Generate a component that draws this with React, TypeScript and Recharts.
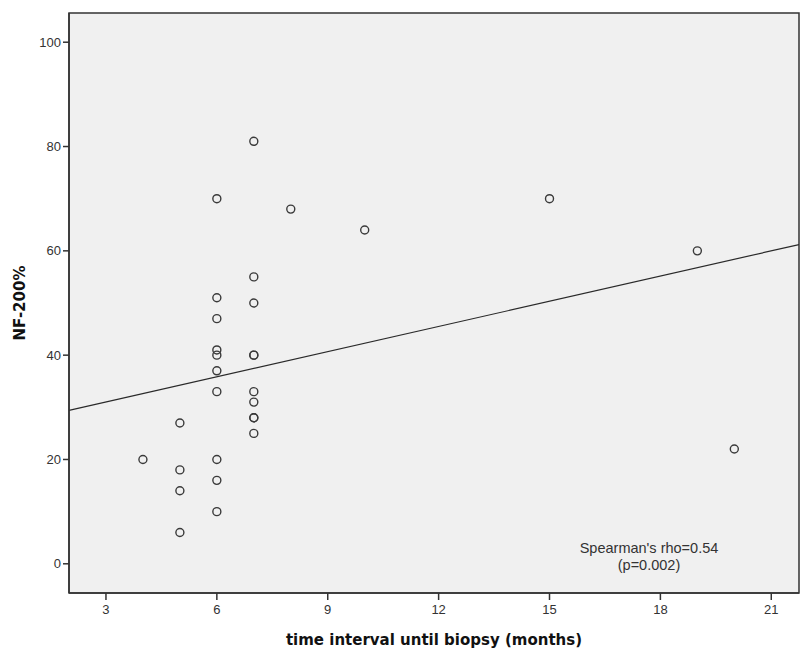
import { ScatterChart, Scatter, XAxis, YAxis, ReferenceArea, ReferenceLine, Label } from 'recharts';

// months until biopsy vs NF-200 %
const months = [4, 5, 5, 5, 5, 6, 6, 6, 6, 6, 6, 6, 6, 6, 6, 7, 7, 7, 7, 7, 7, 7, 7, 7, 7, 8, 10, 15, 19, 20];
const nf200 = [20, 27, 18, 14, 6, 70, 51, 47, 41, 40, 37, 33, 20, 16, 10, 81, 55, 50, 40, 40, 33, 31, 28, 28, 25, 68, 64, 70, 60, 22];

const xTicks = [3, 6, 9, 12, 15, 18, 21];
const yTicks = [0, 20, 40, 60, 80, 100];
const xDomain = [2, 21.75];
const yDomain = [-5.6, 105.6];

// fit line end points
const fitX = [2, 21.75];
const fitY = [29.4, 61.2];

const points = months.map((m, i) => ({ x: m, y: nf200[i] }));

const FONT = 'Liberation Sans, Arial, sans-serif';
const BOLD = 'DejaVu Sans, sans-serif';

const Ring = (props: { cx?: number; cy?: number }) => (
  <circle cx={props.cx} cy={props.cy} r={4} fill="none" stroke="#3a3a3a" strokeWidth={1.4} />
);

export default function App() {
  return (
    <div style={{ position: 'relative', width: 800, height: 651, background: '#fff', fontFamily: FONT }}>
      <style>{`body{margin:0}`}</style>
      <ScatterChart width={800} height={651} margin={{ top: 13, right: 1, bottom: 0, left: 0 }}>
        <XAxis
          type="number"
          dataKey="x"
          domain={xDomain}
          ticks={xTicks}
          allowDataOverflow
          height={58}
          axisLine={{ stroke: '#333', strokeWidth: 1.5 }}
          tickLine={{ stroke: '#333', strokeWidth: 1.5 }}
          tickSize={7}
          tick={{ fill: '#333', fontSize: 13, fontFamily: FONT, dy: 3 }}
        >
          <Label
            value="time interval until biopsy (months)"
            position="insideBottom"
            offset={6}
            style={{ fill: '#111', fontSize: 15, fontWeight: 'bold', fontFamily: BOLD }}
          />
        </XAxis>
        <YAxis
          type="number"
          dataKey="y"
          domain={yDomain}
          ticks={yTicks}
          allowDataOverflow
          width={69}
          axisLine={{ stroke: '#333', strokeWidth: 1.5 }}
          tickLine={{ stroke: '#333', strokeWidth: 1.5 }}
          tickSize={6}
          tick={{ fill: '#333', fontSize: 13, fontFamily: FONT }}
        >
          <Label
            value="NF-200%"
            angle={-90}
            position="insideLeft"
            offset={20}
            style={{ fill: '#111', fontSize: 15, fontWeight: 'bold', fontFamily: BOLD, textAnchor: 'middle' }}
          />
        </YAxis>
        <ReferenceArea
          x1={xDomain[0]}
          x2={xDomain[1]}
          y1={yDomain[0]}
          y2={yDomain[1]}
          fill="#f0f0f0"
          fillOpacity={1}
          stroke="#333"
          strokeWidth={1.5}
        />
        <ReferenceLine
          segment={[{ x: fitX[0], y: fitY[0] }, { x: fitX[1], y: fitY[1] }]}
          stroke="#2a2a2a"
          strokeWidth={1.2}
        />
        <Scatter data={points} shape={Ring} isAnimationActive={false} />
      </ScatterChart>
      <div
        style={{
          position: 'absolute',
          left: 549,
          top: 540,
          width: 200,
          textAlign: 'center',
          fontSize: 14.5,
          lineHeight: '17px',
          color: '#333',
          fontFamily: FONT,
        }}
      >
        <div>Spearman's rho=0.54</div>
        <div>(p=0.002)</div>
      </div>
    </div>
  );
}
